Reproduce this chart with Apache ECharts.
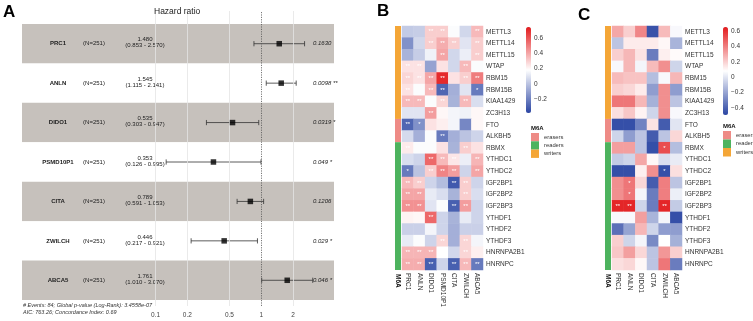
<!DOCTYPE html>
<html>
<head>
<meta charset="utf-8">
<script src="https://cdn.jsdelivr.net/npm/echarts@6.0.0/dist/echarts.min.js"></script>
<style>
html,body{margin:0;padding:0;background:#fff;}
#chart{width:753px;height:321px;}
</style>
</head>
<body>
<div id="chart"></div>
<script>
// ---- panel A : forest plot ----
var genes = ['PRC1','ANLN','DIDO1','PSMD10P1','CITA','ZWILCH','ABCA5'];
var hr     = [1.480, 1.545, 0.535, 0.353, 0.789, 0.446, 1.761];
var hrLow  = [0.853, 1.115, 0.303, 0.126, 0.591, 0.217, 1.010];
var hrHigh = [2.570, 2.141, 0.947, 0.995, 1.053, 0.921, 3.070];
var nLabel = '(N=251)';
var pLabel = ['0.1630', '0.0098 **', '0.0319 *', '0.049 *', '0.1206', '0.029 *', '0.046 *'];
var hrTicks = [0.1, 0.2, 0.5, 1, 2];
var footer1 = '# Events: 84; Global p-value (Log-Rank): 3.4558e-07';
var footer2 = 'AIC: 763.26; Concordance Index: 0.69';

// ---- panels B / C : correlation heatmaps ----
var m6aGenes = ['METTL3','METTL14','METTL15','WTAP','RBM15','RBM15B','KIAA1429','ZC3H13','FTO','ALKBH5',
	'RBMX','YTHDC1','YTHDC2','IGF2BP1','IGF2BP2','IGF2BP3','YTHDF1','YTHDF2','YTHDF3','HNRNPA2B1','HNRNPC'];
var m6aGroup = ['writers','writers','writers','writers','writers','writers','writers','writers','erasers','erasers',
	'readers','readers','readers','readers','readers','readers','readers','readers','readers','readers','readers'];
var colsB = ['PRC1','ANLN','DIDO1','PSMD10P1','CITA','ZWILCH','ABCA5'];
var colsC = ['PRC1','ANLN','DIDO1','CITA','ZWILCH','ABCA5'];

var corrB = [
	[ 0.02, 0.03, 0.30, 0.30, 0.17, 0.06, 0.35],
	[-0.15, 0.06, 0.30, 0.38, 0.30, 0.10, 0.30],
	[-0.05, 0.03, 0.14, 0.40, 0.06, 0.13, 0.30],
	[ 0.25, 0.25,-0.10, 0.25, 0.06, 0.35, 0.17],
	[ 0.28, 0.25, 0.40, 0.70, 0.25, 0.30, 0.50],
	[ 0.25, 0.17, 0.35,-0.28,-0.06, 0.10,-0.22],
	[ 0.35, 0.35, 0.17, 0.28,-0.05, 0.35, 0.08],
	[ 0.10, 0.10, 0.42, 0.20, 0.15, 0.14, 0.20],
	[-0.28,-0.15, 0.25, 0.22, 0.15,-0.18, 0.20],
	[ 0.07,-0.06, 0.17,-0.22,-0.06, 0.00, 0.05],
	[ 0.23, 0.17, 0.17, 0.25,-0.05, 0.30, 0.25],
	[ 0.08, 0.05, 0.55, 0.35, 0.24, 0.13, 0.36],
	[-0.22, 0.00, 0.30, 0.48, 0.42, 0.05, 0.40],
	[ 0.35, 0.30, 0.05,-0.02,-0.32, 0.30, 0.05],
	[ 0.40, 0.40, 0.12, 0.08,-0.05, 0.30, 0.08],
	[ 0.45, 0.45, 0.10, 0.17,-0.30, 0.42, 0.05],
	[ 0.21, 0.20, 0.55, 0.05,-0.05, 0.12, 0.05],
	[ 0.04, 0.04, 0.15, 0.05,-0.06, 0.04, 0.04],
	[ 0.12, 0.17, 0.05, 0.28,-0.06, 0.28, 0.15],
	[ 0.36, 0.36, 0.36, 0.18, 0.06, 0.28, 0.22],
	[ 0.38, 0.38,-0.30, 0.05,-0.30, 0.35,-0.22]
];
var sigB = [
	['','','**','**','','','**'],
	['','','**','**','**','','**'],
	['','','','**','','','**'],
	['**','**','','','','**',''],
	['**','**','**','**','','**','**'],
	['**','','**','**','','','*'],
	['**','**','','**','','**',''],
	['','','**','','','',''],
	['**','*','','','','',''],
	['','','','**','','',''],
	['**','','','','','**',''],
	['','','**','**','**','','**'],
	['*','','**','**','**','','**'],
	['**','**','','','**','**',''],
	['**','**','','','','**',''],
	['**','**','','','**','**',''],
	['','','**','','','',''],
	['','','','','','',''],
	['','','','**','','**',''],
	['**','**','**','','','**',''],
	['**','**','**','','**','**','**']
];
var corrC = [
	[ 0.30, 0.20, 0.38,-0.45, 0.25, 0.06],
	[-0.10, 0.13, 0.13, 0.13, 0.10,-0.15],
	[ 0.20, 0.26, 0.15,-0.32, 0.12, 0.09],
	[ 0.06, 0.26, 0.05, 0.25, 0.36,-0.05],
	[ 0.25, 0.23, 0.23,-0.12, 0.06, 0.26],
	[ 0.20, 0.18, 0.13,-0.22, 0.36,-0.22],
	[ 0.42, 0.42, 0.26,-0.16, 0.36,-0.10],
	[ 0.16, 0.22, 0.11,-0.05, 0.36, 0.06],
	[-0.46,-0.46,-0.30, 0.15,-0.42, 0.00],
	[-0.05,-0.22,-0.10,-0.42,-0.10, 0.18],
	[ 0.32, 0.32,-0.10,-0.46, 0.52,-0.12],
	[-0.08,-0.05, 0.30, 0.10,-0.02, 0.02],
	[-0.46,-0.46, 0.12, 0.36,-0.46, 0.16],
	[ 0.36, 0.42, 0.18,-0.42, 0.40,-0.10],
	[ 0.36, 0.42, 0.05,-0.32, 0.40, 0.03],
	[ 0.62, 0.62,-0.05,-0.32, 0.62,-0.08],
	[ 0.06, 0.06, 0.32,-0.15, 0.05,-0.46],
	[-0.36,-0.20, 0.26,-0.05,-0.22,-0.22],
	[ 0.20,-0.05, 0.05,-0.28, 0.08,-0.16],
	[ 0.22, 0.32, 0.18,-0.10, 0.34, 0.20],
	[ 0.16, 0.18, 0.10,-0.10, 0.42,-0.32]
];
var sigC = [
	['','','','','',''],['','','','','',''],['','','','','',''],['','','','','',''],
	['','','','','',''],['','','','','',''],['','','','','',''],['','','','','',''],
	['','','','','',''],['','','','','',''],
	['','','','','*',''],
	['','','','','',''],
	['','','','','*',''],
	['','*','','','',''],
	['','*','','','',''],
	['**','**','','','**',''],
	['','','','','',''],['','','','','',''],['','','','','',''],['','','','','',''],['','','','','','']
];
var legendTicksB = [-0.2, 0, 0.2, 0.4, 0.6];
var legendTicksC = [-0.4, -0.2, 0, 0.2, 0.4, 0.6];
var groupOrder = ['writers','erasers','readers'];
var groupColor = {writers:'#F4A637', erasers:'#EE8B86', readers:'#4DB35E'};

var F = 'Liberation Sans, Arial, sans-serif';
var lg = Math.log10;
var axMin = lg(0.00545), axMax = lg(4.88);

function toHeat(m) {
	var out = [];
	m.forEach(function(row, r){ row.forEach(function(v, c){ out.push([c, r, v]); }); });
	return out;
}
var groupCount = groupOrder.map(function(g){ return m6aGroup.filter(function(x){ return x === g; }).length; });

function renderTable(params, api) {
	var i = params.dataIndex;
	var y = api.coord([axMin, i])[1];
	var x0 = params.coordSys.x;
	var base = {fill:'#222', fontFamily:F, fontSize:6, verticalAlign:'middle'};
	return {type:'group', children:[
		{type:'text', x:x0+36, y:y, style:Object.assign({}, base, {text:genes[i], fontWeight:'bold', align:'center'})},
		{type:'text', x:x0+72, y:y, style:Object.assign({}, base, {text:nLabel, align:'center'})},
		{type:'text', x:x0+123, y:y-1, style:Object.assign({}, base, {
			text: hr[i].toFixed(3) + '\n(' + hrLow[i].toFixed(3) + ' - ' + hrHigh[i].toFixed(3) + ')',
			align:'center', lineHeight:6})},
		{type:'text', x:x0+291, y:y, style:Object.assign({}, base, {text:pLabel[i], align:'left', fontStyle:'italic'})}
	]};
}
function renderCI(params, api) {
	var a = api.coord([api.value(0), api.value(2)]);
	var b = api.coord([api.value(1), api.value(2)]);
	var h = 2.6, st = {stroke:'#333', lineWidth:0.8};
	return {type:'group', children:[
		{type:'line', shape:{x1:a[0], y1:a[1], x2:b[0], y2:b[1]}, style:st},
		{type:'line', shape:{x1:a[0], y1:a[1]-h, x2:a[0], y2:a[1]+h}, style:st},
		{type:'line', shape:{x1:b[0], y1:b[1]-h, x2:b[0], y2:b[1]+h}, style:st}
	]};
}
function minusFmt(v) { return String(+v.toFixed(2)).replace('-', '\u2212'); }

function heatAxes(gridIdx, cols) {
	return {
		x: {gridIndex:gridIdx, type:'category', data:cols, axisLine:{show:false}, axisTick:{show:false},
			axisLabel:{rotate:-90, interval:0, fontSize:6.5, margin:3, color:'#333', fontFamily:F}},
		y: {gridIndex:gridIdx, type:'category', data:m6aGenes, inverse:true, position:'right',
			axisLine:{show:false}, axisTick:{show:false},
			axisLabel:{interval:0, fontSize:6.5, margin:3, color:'#333', fontFamily:F}}
	};
}
function annotAxes(gridIdx) {
	return {
		x: {gridIndex:gridIdx, type:'category', data:['M6A'], axisLine:{show:false}, axisTick:{show:false},
			axisLabel:{rotate:-90, fontSize:6.5, fontWeight:'bold', margin:4, color:'#111', fontFamily:F}},
		y: {gridIndex:gridIdx, type:'value', min:0, max:m6aGenes.length, inverse:true, show:false}
	};
}
function legendAxes(gridIdx, mn, mx, ticks) {
	return {
		x: {gridIndex:gridIdx, type:'value', show:false},
		y: {gridIndex:gridIdx, type:'value', min:mn, max:mx, position:'right',
			axisLine:{show:false}, axisTick:{show:false}, splitLine:{show:false},
			axisLabel:{customValues:ticks, formatter:minusFmt, fontSize:6.5, margin:3, color:'#333', fontFamily:F}}
	};
}
function annotSeries(axIdx) {
	return groupOrder.map(function(g, k){
		return {name:g, type:'bar', stack:'m6a'+axIdx, xAxisIndex:axIdx, yAxisIndex:axIdx, barWidth:'100%',
			itemStyle:{color:groupColor[g]}, silent:true, data:[groupCount[k]]};
	});
}

var hB = heatAxes(3, colsB), hC = heatAxes(6, colsC);
var aB = annotAxes(2), aC = annotAxes(5);
var lB = legendAxes(4, -0.38, 0.74, legendTicksB), lC = legendAxes(7, -0.49, 0.65, legendTicksC);

var gridLine = {color:'#e4e4e4', width:0.8, type:'solid'};
var markData = hrTicks.map(function(t){
	return {xAxis: lg(t), lineStyle: t === 1 ? {color:'#555', width:0.8, type:[1.2, 1.2]} : gridLine};
});
var legendText = {fontSize:5.8, color:'#333'};

var option = {
	animation:false,
	textStyle:{fontFamily:F},
	title:[
		{text:'A', left:3, top:4, padding:0, textStyle:{fontSize:17, fontWeight:'bold', color:'#000'}},
		{text:'Hazard ratio', left:154, top:7, padding:0, textStyle:{fontSize:8.5, fontWeight:'normal', color:'#222'}},
		{text:'B', left:377, top:3, padding:0, textStyle:{fontSize:17, fontWeight:'bold', color:'#000'}},
		{text:'C', left:578, top:7, padding:0, textStyle:{fontSize:17, fontWeight:'bold', color:'#000'}},
		{text:'M6A', left:531, top:125, padding:0, textStyle:{fontSize:6, fontWeight:'bold', color:'#111'}},
		{text:'M6A', left:723, top:123, padding:0, textStyle:{fontSize:6, fontWeight:'bold', color:'#111'}}
	],
	graphic:[
		{type:'text', left:23, top:302, style:{text:footer1, fontSize:5.5, fontStyle:'italic', fill:'#333', fontFamily:F}},
		{type:'text', left:23, top:309, style:{text:footer2, fontSize:5.5, fontStyle:'italic', fill:'#333', fontFamily:F}}
	],
	legend:[
		{data:['erasers','readers','writers'], orient:'vertical', left:531, top:133, padding:0, itemGap:0,
			itemWidth:8, itemHeight:8.3, icon:'rect', textStyle:legendText},
		{data:['erasers','readers','writers'], orient:'vertical', left:723, top:131, padding:0, itemGap:0,
			itemWidth:8, itemHeight:8.5, icon:'rect', textStyle:legendText}
	],
	visualMap:[
		{type:'continuous', seriesIndex:7, min:-0.38, max:0.74, calculable:false, left:526, top:27, padding:0,
			itemWidth:5, itemHeight:86, inRange:{color:['#2a45a3','#ffffff','#e31a1c']}},
		{type:'continuous', seriesIndex:11, min:-0.49, max:0.65, calculable:false, left:723, top:27, padding:0,
			itemWidth:5, itemHeight:88, inRange:{color:['#2a45a3','#ffffff','#e31a1c']}}
	],
	grid:[
		{left:22, width:312, top:24, height:276},
		{left:22, width:312, top:11, height:295},
		{left:395, width:6, top:26, height:244},
		{left:402, width:81, top:26, height:244},
		{left:526, width:5, top:27, height:86},
		{left:605, width:6, top:26, height:244},
		{left:612, width:70, top:26, height:244},
		{left:723, width:5, top:27, height:88}
	],
	xAxis:[
		{gridIndex:0, type:'value', min:axMin, max:axMax, show:false},
		{gridIndex:1, type:'value', min:axMin, max:axMax, axisLine:{show:false}, axisTick:{show:false},
			splitLine:{show:false},
			axisLabel:{customValues:hrTicks.map(lg), formatter:function(v){ return String(+Math.pow(10, v).toPrecision(2)); },
				fontSize:6.5, color:'#444', margin:6, fontFamily:F}},
		aB.x, hB.x, lB.x, aC.x, hC.x, lC.x
	],
	yAxis:[
		{gridIndex:0, type:'category', data:genes, inverse:true, axisLine:{show:false}, axisTick:{show:false},
			axisLabel:{show:false}, splitLine:{show:false},
			splitArea:{show:true, areaStyle:{color:['#c6c1bc','#ffffff']}}},
		{gridIndex:1, type:'value', min:0, max:1, show:false},
		aB.y, hB.y, lB.y, aC.y, hC.y, lC.y
	],
	series:[
		{type:'custom', xAxisIndex:0, yAxisIndex:0, renderItem:renderTable, silent:true, z:3,
			data:genes.map(function(g, i){ return [axMin, i]; })},
		{type:'custom', xAxisIndex:0, yAxisIndex:0, renderItem:renderCI, silent:true, z:4,
			encode:{x:[0,1], y:2},
			data:genes.map(function(g, i){ return [lg(hrLow[i]), lg(hrHigh[i]), i]; })},
		{type:'scatter', xAxisIndex:0, yAxisIndex:0, symbol:'rect', symbolSize:5.5, silent:true, z:5,
			itemStyle:{color:'#000'},
			data:genes.map(function(g, i){ return [lg(hr[i]), i]; })},
		{type:'line', xAxisIndex:1, yAxisIndex:1, data:[], z:1,
			markLine:{symbol:'none', silent:true, label:{show:false}, data:markData}}
	].concat(annotSeries(2)).concat([
		{type:'heatmap', xAxisIndex:3, yAxisIndex:3, data:toHeat(corrB), silent:true,
			label:{show:true, fontSize:6, color:'#fff', formatter:function(p){ return sigB[p.value[1]][p.value[0]]; }}}
	]).concat(annotSeries(5)).concat([
		{type:'heatmap', xAxisIndex:6, yAxisIndex:6, data:toHeat(corrC), silent:true,
			label:{show:true, fontSize:6, color:'#fff', formatter:function(p){ return sigC[p.value[1]][p.value[0]]; }}}
	])
};

var chart = echarts.init(document.getElementById('chart'));
chart.setOption(option);
</script>
</body>
</html>
